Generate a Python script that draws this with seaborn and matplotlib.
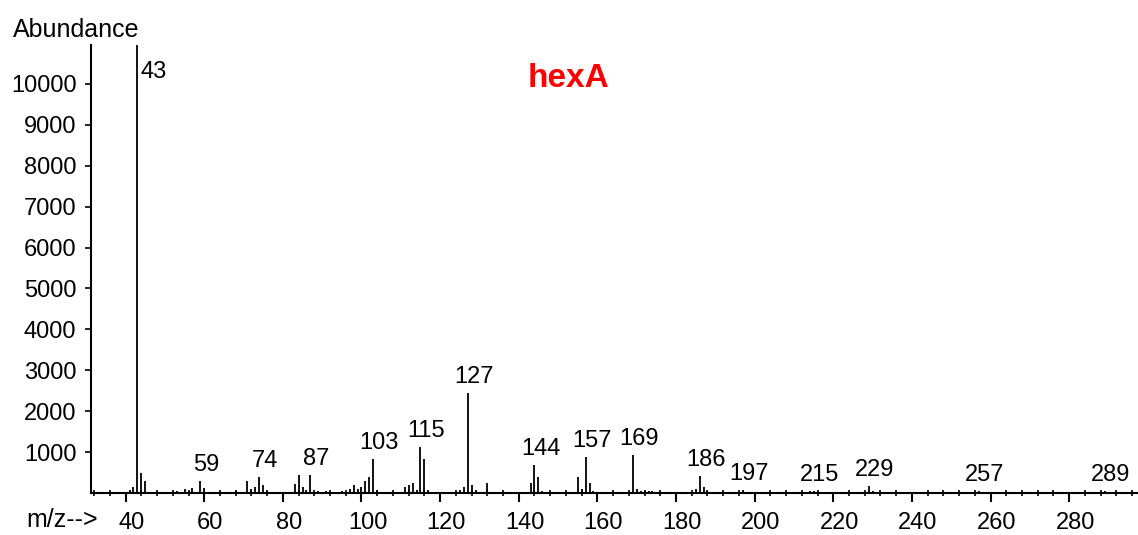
import matplotlib
matplotlib.use("Agg")
import matplotlib.pyplot as plt
import matplotlib.transforms as mtransforms
from matplotlib.ticker import MultipleLocator, FixedLocator
import seaborn as sns
import pandas as pd

# ---- data ----
mz = [41, 42, 43, 44, 45, 53, 55, 56, 57, 59, 60, 68, 71, 72, 73, 74, 75, 76,
      83, 84, 85, 86, 87, 89, 91, 95, 97, 98, 99, 100, 101, 102, 103, 104,
      111, 112, 113, 114, 115, 116, 117, 125, 126, 127, 128, 129, 132,
      143, 144, 145, 146, 155, 156, 157, 158, 159, 169, 170, 171, 172, 173, 174,
      185, 186, 187, 188, 197, 214, 215, 229, 230, 257, 289]
abundance = [80, 150, 11000, 500, 300, 60, 100, 60, 120, 300, 120, 60, 300, 100, 150, 390, 200, 60,
             220, 440, 150, 80, 440, 60, 40, 60, 100, 200, 100, 150, 300, 400, 830, 80,
             150, 200, 250, 80, 1125, 830, 80, 80, 150, 2445, 200, 80, 250,
             245, 685, 390, 60, 390, 100, 890, 245, 60, 930, 100, 60, 50, 40, 60,
             100, 415, 150, 60, 80, 40, 60, 170, 40, 50, 50]
labeled_peaks = [43, 59, 74, 87, 103, 115, 127, 144, 157, 169, 186, 197, 215, 229, 257, 289]
x_ticks = [40, 60, 80, 100, 120, 140, 160, 180, 200, 220, 240, 260, 280]
y_ticks = [1000, 2000, 3000, 4000, 5000, 6000, 7000, 8000, 9000, 10000]
title = "hexA"

df = pd.DataFrame({"mz": mz, "abundance": abundance})

sns.set_theme(style="ticks")
plt.rcParams["font.family"] = ["Liberation Sans", "DejaVu Sans"]

W, H = 1138, 535
fig = plt.figure(figsize=(W / 100, H / 100), dpi=100)
ax = fig.add_axes([91 / W, (H - 493) / H, (W - 91) / W, (493 - 45) / H])

ymax = 10950
ax.vlines(df["mz"], 0, df["abundance"].clip(upper=ymax), color="black", linewidth=1.3)

ax.set_xlim(31.2, 297.5)
ax.set_ylim(0, ymax)
sns.despine(ax=ax, top=True, right=True)
for s in ("left", "bottom"):
    ax.spines[s].set_linewidth(1.5)
    ax.spines[s].set_color("black")

ax.xaxis.set_major_locator(FixedLocator(x_ticks))
ax.xaxis.set_minor_locator(MultipleLocator(4))
ax.set_xticklabels([str(v) for v in x_ticks])
ax.yaxis.set_major_locator(FixedLocator(y_ticks))
ax.set_yticklabels([str(v) for v in y_ticks])

ax.tick_params(axis="x", which="major", direction="out", length=6.5, width=1.5,
               pad=7, labelsize=17, colors="black")
ax.tick_params(axis="x", which="minor", direction="inout", length=4.5, width=1.2, colors="black")
ax.tick_params(axis="y", which="major", direction="out", length=4, width=1.2,
               pad=6.5, labelsize=17, colors="black")
ax.set_xlabel("")
ax.set_ylabel("")
ax.grid(False)

# peak labels
px = 100 / 72.0
abund_map = dict(zip(mz, abundance))
for p in labeled_peaks:
    h = abund_map[p]
    if h >= ymax:
        ax.annotate(str(p), xy=(p, ymax), xytext=(3 / px, -33 / px), textcoords="offset points",
                    ha="left", va="baseline", fontsize=17, color="black")
    else:
        ax.annotate(str(p), xy=(p, h), xytext=(6 / px, 10 / px), textcoords="offset points",
                    ha="center", va="baseline", fontsize=17, color="black")

ax.text(0.4565, 0.906, title, transform=ax.transAxes, ha="center", va="baseline",
        fontsize=24, fontweight="bold", color="#ff0000")

fig.text(13 / W, 1 - 36.7 / H, "Abundance", ha="left", va="baseline", fontsize=18, color="black")
fig.text(98 / W, 1 - 527 / H, "m/z-->", ha="right", va="baseline", fontsize=18, color="black")

# shift x tick labels slightly right as in the reference
fig.canvas.draw()
offset = mtransforms.ScaledTranslation(6 / 100, 0, fig.dpi_scale_trans)
for lab in ax.get_xticklabels():
    lab.set_transform(lab.get_transform() + offset)

fig.savefig("out.png", dpi=100, facecolor="white")
